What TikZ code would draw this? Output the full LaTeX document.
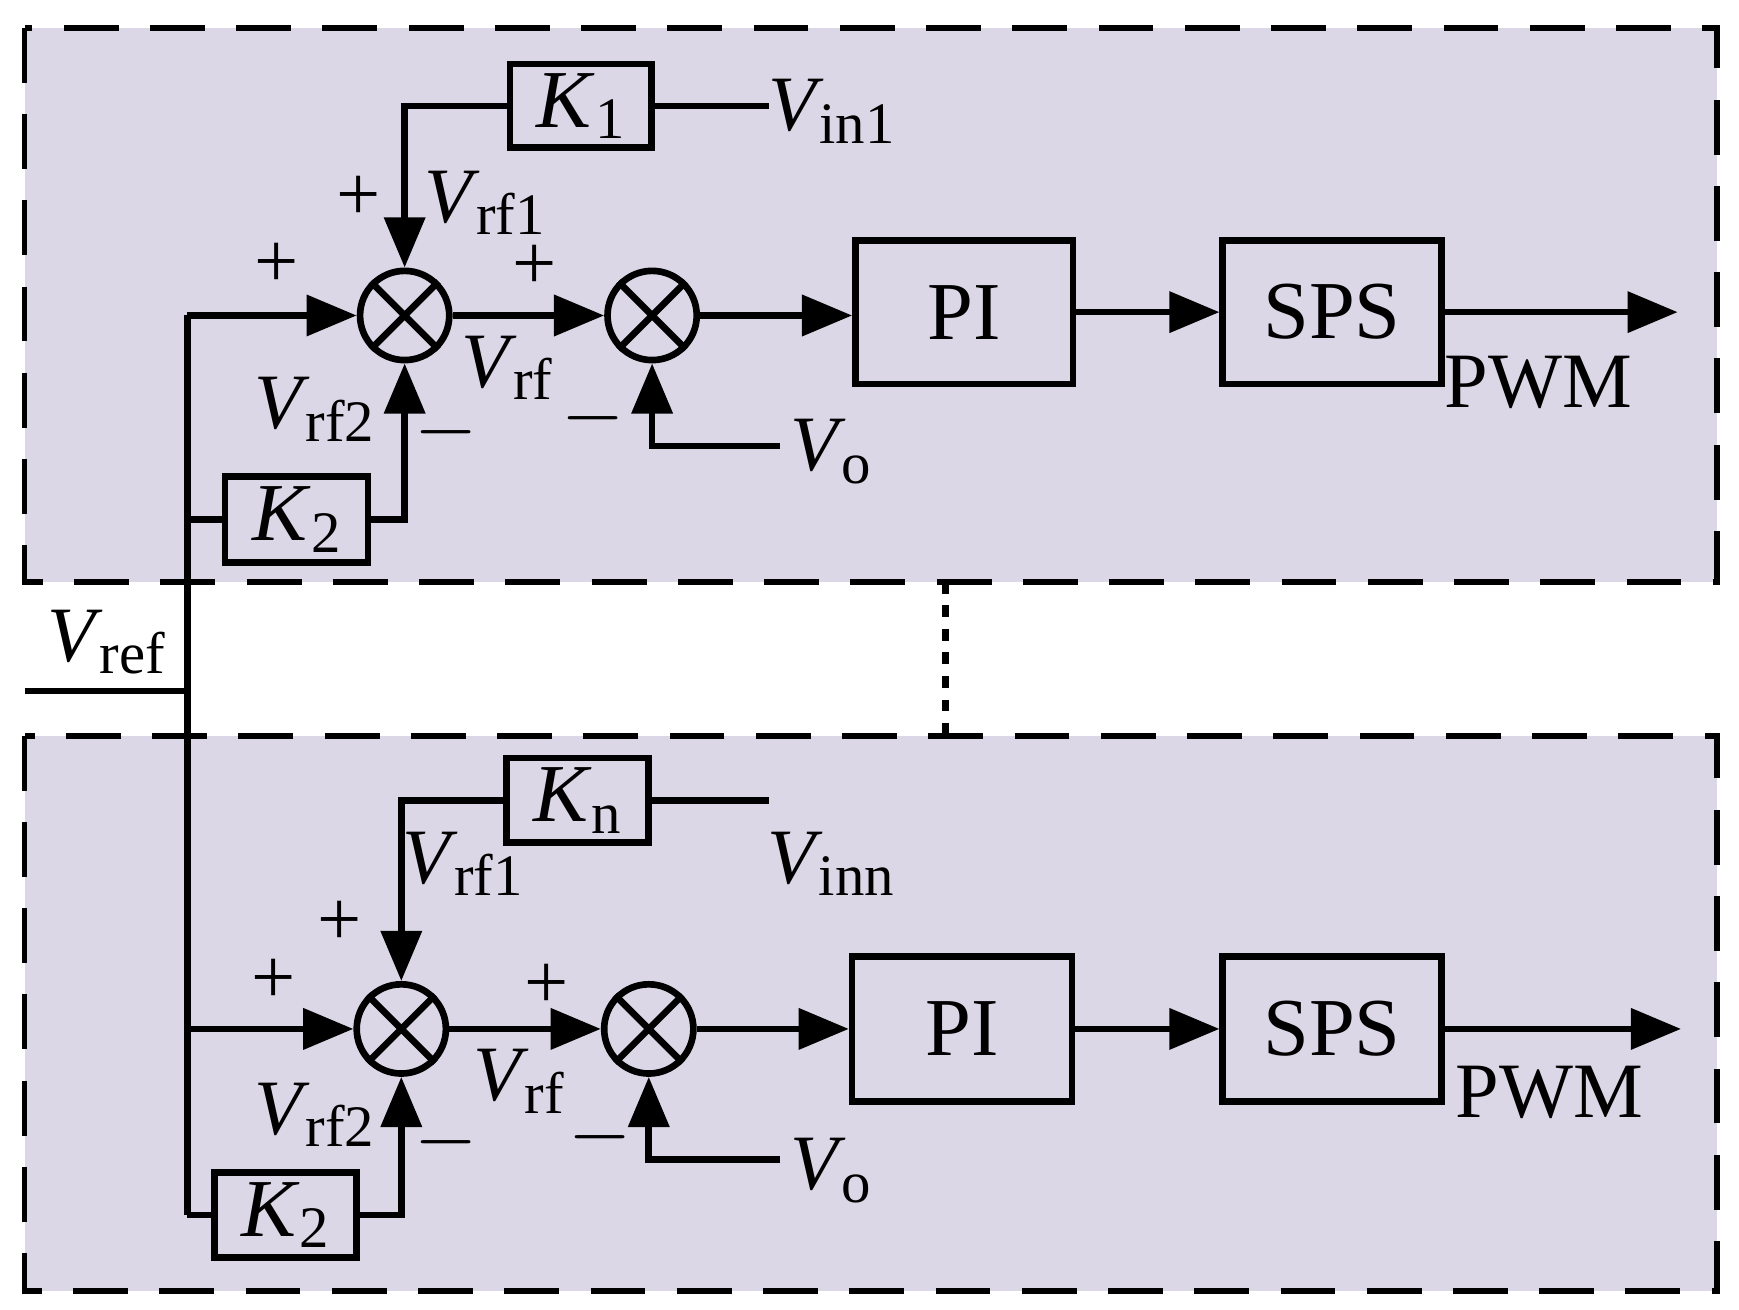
\documentclass[tikz,border=0pt]{standalone}
\usepackage{fontspec}
\setmainfont{Liberation Serif}
\usetikzlibrary{arrows.meta}
\definecolor{bg}{RGB}{220,215,230}
\newcommand{\lab}[2]{\textit{V}\kern-1pt\raisebox{-0.35ex}{\fontsize{15}{15}\selectfont #2}}
\newcommand{\kk}[1]{\textit{K}\raisebox{-0.3ex}{\fontsize{15}{15}\selectfont #1}}
\begin{document}
\begin{tikzpicture}[x=0.01cm,y=-0.01cm,line width=1.7pt,
 blk/.style={draw,minimum width=#1,inner sep=0pt,font=\fontsize{21}{21}\selectfont},
 sum/.style={draw,circle,minimum size=0.8cm,inner sep=0pt},
 arr/.style={-{Triangle[length=0.45cm,width=0.36cm]}},
 t/.style={font=\fontsize{20}{20}\selectfont,inner sep=0pt},
 box/.style={draw,fill=bg,dash pattern=on 14pt off 8pt,line width=1.5pt}]
\useasboundingbox (0,0) rectangle (1560,1175);
\draw[box] (22,25) rectangle (1540,522);
\draw[box] (22,660) rectangle (1540,1158);
\draw[dash pattern=on 3pt off 3pt,line width=1.8pt] (848,522) -- (848,660);
% Vref
\coordinate (r0) at (22,620); \coordinate (r1) at (168,620);
\draw (r0) -- (r1);
\node[t,anchor=south west] at (40,608) {\lab{V}{ref}};
\coordinate (vt) at (168,283); \coordinate (vb) at (168,1090);
\draw (vt) -- (vb);
% ---- top
\node[sum] (a1) at (363,283) {}; \node[sum] (a2) at (585,283) {};
\node[blk=1.28cm,minimum height=0.77cm] (k2) at (266,466) {\kk{2}};
\node[blk=1.27cm,minimum height=0.75cm] (k1) at (521,95) {\kk{1}};
\node[blk=1.95cm,minimum height=1.29cm] (pi) at (865,280) {PI};
\node[blk=1.96cm,minimum height=1.29cm] (sps) at (1195,280) {SPS};
\coordinate (o1) at (1505,280);
\coordinate (vi1) at (690,95);
\coordinate (k2a) at (168,466);
\coordinate (vo1) at (700,400);
\draw[arr] (vt) -- (a1);
\draw (k2a) -- (k2);
\draw[arr] (k2) -| (a1);
\draw (k1) -- (vi1);
\draw[arr] (k1) -| (a1);
\draw[arr] (a1) -- (a2);
\draw[arr] (a2) -- (a2 -| pi.west);
\draw[arr] (pi) -- (sps);
\draw[arr] (sps) -- (o1);
\draw[arr] (vo1) -| (a2);
\node[t,anchor=west] at (686,100) {\lab{V}{in1}};
\node[t] at (248,238) {+}; \node[t] at (322,178) {+};
\node[t] at (435,182) {\lab{V}{rf1}}; \node[t] at (480,240) {+};
\node[t] at (455,330) {\lab{V}{rf}}; \node[t] at (282,367) {\lab{V}{rf2}};
\node[t] at (400,388) {$-$}; \node[t] at (532,375) {$-$};
\node[t] at (745,405) {\lab{V}{o}};
\node[t] at (1380,343) {PWM};
% ---- bottom
\node[sum] (b1) at (360,923) {}; \node[sum] (b2) at (582,923) {};
\node[blk=1.27cm,minimum height=0.76cm] (kk2) at (256,1090) {\kk{2}};
\node[blk=1.27cm,minimum height=0.76cm] (kn) at (518,718) {\kk{n}};
\node[blk=1.97cm,minimum height=1.3cm] (pi2) at (863,923) {PI};
\node[blk=1.96cm,minimum height=1.3cm] (sps2) at (1195,923) {SPS};
\coordinate (o2) at (1508,923);
\coordinate (vin) at (690,718);
\coordinate (bl) at (168,923);
\coordinate (vo2) at (700,1040);
\draw[arr] (bl) -- (b1);
\draw (vb) -- (kk2);
\draw[arr] (kk2) -| (b1);
\draw (kn) -- (vin);
\draw[arr] (kn) -| (b1);
\draw[arr] (b1) -- (b2);
\draw[arr] (b2) -- (pi2);
\draw[arr] (pi2) -- (sps2);
\draw[arr] (sps2) -- (o2);
\draw[arr] (vo2) -| (b2);
\node[t] at (745,775) {\lab{V}{inn}};
\node[t] at (415,775) {\lab{V}{rf1}}; \node[t] at (305,828) {+};
\node[t] at (245,880) {+}; \node[t] at (490,885) {+};
\node[t] at (465,970) {\lab{V}{rf}}; \node[t] at (282,1000) {\lab{V}{rf2}};
\node[t] at (400,1025) {$-$}; \node[t] at (538,1020) {$-$};
\node[t] at (745,1050) {\lab{V}{o}};
\node[t] at (1390,980) {PWM};
\foreach \c in {a1,a2,b1,b2}{\draw (\c.45)--(\c.225) (\c.135)--(\c.315);}
\end{tikzpicture}
\end{document}
